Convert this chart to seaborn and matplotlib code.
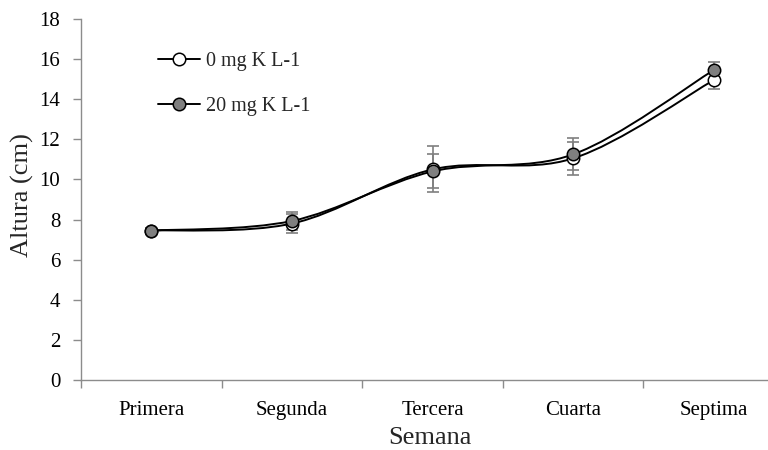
import numpy as np
import pandas as pd
import matplotlib
matplotlib.use("Agg")
import matplotlib.pyplot as plt
from matplotlib.path import Path
from matplotlib.patches import PathPatch
from matplotlib.ticker import FixedLocator
from matplotlib.lines import Line2D
import seaborn as sns

# ---- data ----
semanas = ["Primera", "Segunda", "Tercera", "Cuarta", "Septima"]
altura_0 = [7.45, 7.80, 10.50, 11.05, 14.95]
err_0 = [0.15, 0.49, 1.15, 0.83, 0.45]
altura_20 = [7.45, 7.93, 10.40, 11.25, 15.45]
err_20 = [0.15, 0.43, 0.85, 0.80, 0.42]
labels = ["0 mg K L-1", "20 mg K L-1"]
yticks = [0, 2, 4, 6, 8, 10, 12, 14, 16, 18]

df = pd.DataFrame({
    "Semana": semanas * 2,
    "x": list(range(len(semanas))) * 2,
    "Altura": altura_0 + altura_20,
    "err": err_0 + err_20,
    "Tratamiento": [labels[0]] * len(semanas) + [labels[1]] * len(semanas),
})

sns.set_theme(style="white")
plt.rcParams["font.family"] = ["Liberation Serif", "DejaVu Serif"]

fig = plt.figure(figsize=(7.68, 4.5), dpi=100)
ax = fig.add_axes([81 / 768, 70 / 450, 703 / 768, 361 / 450])
ax.set_xlim(-0.5, len(semanas) - 0.5)
ax.set_ylim(0, 18)


def smooth_path(xs, ys):
    """Excel-like smoothed line: cubic Bezier through points (Catmull-Rom)."""
    pts = np.column_stack([xs, ys]).astype(float)
    n = len(pts)
    verts = [pts[0]]
    codes = [Path.MOVETO]
    for i in range(n - 1):
        p0 = pts[i - 1] if i > 0 else pts[i]
        p1 = pts[i]
        p2 = pts[i + 1]
        p3 = pts[i + 2] if i + 2 < n else pts[i + 1]
        c1 = p1 + (p2 - p0) / 6.0
        c2 = p2 - (p3 - p1) / 6.0
        verts += [c1, c2, p2]
        codes += [Path.CURVE4] * 3
    return Path(verts, codes)


fills = {labels[0]: "white", labels[1]: "#7f7f7f"}

for lab in labels:
    sub = df[df["Tratamiento"] == lab]
    ax.add_patch(PathPatch(smooth_path(sub["x"], sub["Altura"]), facecolor="none",
                           edgecolor="black", lw=1.4, zorder=2))

for lab in labels:
    sub = df[df["Tratamiento"] == lab]
    ax.errorbar(sub["x"], sub["Altura"], yerr=sub["err"], fmt="none",
                ecolor="#7f7f7f", elinewidth=1.2, capsize=4, capthick=1.2, zorder=3)

for z, lab in enumerate(labels):
    sub = df[df["Tratamiento"] == lab]
    sns.scatterplot(data=sub, x="x", y="Altura", ax=ax, s=80, color=fills[lab],
                    edgecolor="black", linewidth=1.1, zorder=4 + z, legend=False)

# legend handles
handles = [Line2D([0], [0], color="black", lw=1.4, marker="o", markersize=9,
                  markerfacecolor=fills[l], markeredgecolor="black",
                  markeredgewidth=1.1) for l in labels]
fig.legend(handles, labels, loc="upper left", bbox_to_anchor=(158 / 768, 1 - 52 / 450),
           frameon=False, fontsize=14.5, labelspacing=1.3, handlelength=2.1,
           handletextpad=0.3, borderpad=0, borderaxespad=0)

# axes styling (Excel-like)
for s in ["top", "right"]:
    ax.spines[s].set_visible(False)
for s in ["left", "bottom"]:
    ax.spines[s].set_color("#8c8c8c")
    ax.spines[s].set_linewidth(1.0)

ax.set_yticks(yticks)
ax.set_xticks(range(len(semanas)))
ax.set_xticklabels(semanas)
ax.xaxis.set_minor_locator(FixedLocator(np.arange(-0.5, len(semanas), 1.0)))
ax.tick_params(axis="x", which="major", length=0, pad=15, labelsize=15, colors="black")
ax.tick_params(axis="x", which="minor", length=6, width=1.0, color="#8c8c8c",
               direction="out", bottom=True)
ax.tick_params(axis="y", which="major", length=6, width=1.0, color="#8c8c8c",
               direction="out", pad=9, labelsize=15, labelcolor="black", left=True)

ax.set_xlabel("Semana", fontsize=19)
ax.set_ylabel("Altura (cm)", fontsize=19)
ax.xaxis.set_label_coords((430 - 81) / 703, -(443.5 - 380) / 361, transform=ax.transAxes)
ax.xaxis.label.set_verticalalignment("baseline")
ax.yaxis.set_label_coords(-(81 - 34) / 703, (380 - 195) / 361, transform=ax.transAxes)
ax.grid(False)

fig.savefig("out.png", dpi=100)
